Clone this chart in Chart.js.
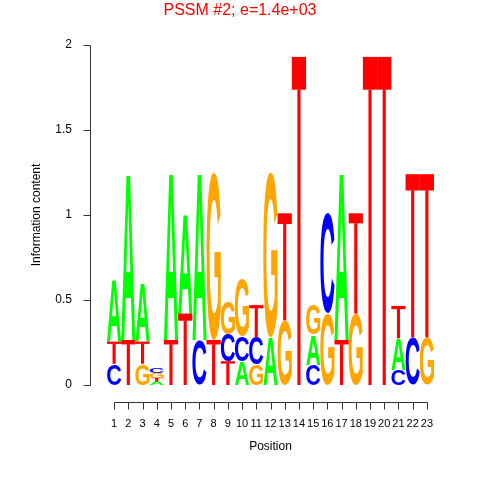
<!DOCTYPE html>
<html>
<head>
<meta charset="utf-8">
<script src="https://cdn.jsdelivr.net/npm/chart.js@4/dist/chart.umd.min.js"></script>
<style>
    html, body { margin: 0; padding: 0; background: #fff; }
    #wrap { width: 480px; height: 480px; }
</style>
</head>
<body>
<div id="wrap"><canvas id="logoChart" width="480" height="480"></canvas></div>
<script>
// Positions along the motif
const positions = ['1', '2', '3', '4', '5', '6', '7', '8', '9', '10', '11', '12',
    '13', '14', '15', '16', '17', '18', '19', '20', '21', '22', '23'];

// Letter heights (bits) per position
const heightA = [0.37, 0.98, 0.34, 0.02, 0.985, 0.59, 0.985, 0, 0, 0.14, 0, 0.28,
    0, 0, 0.175, 0, 0.985, 0, 0, 0, 0.185, 0, 0];
const heightC = [0.125, 0, 0, 0.03, 0, 0, 0.265, 0, 0.16, 0.15, 0.16, 0,
    0, 0, 0.12, 0.59, 0, 0, 0, 0, 0.09, 0.28, 0];
const heightG = [0, 0, 0.125, 0.028, 0, 0, 0, 0.985, 0.195, 0.33, 0.12, 0.97,
    0.38, 0, 0.18, 0.42, 0, 0.42, 0, 0, 0, 0, 0.28];
const heightT = [0.13, 0.265, 0.13, 0.022, 0.265, 0.42, 0, 0.265, 0.14, 0, 0.19, 0,
    0.63, 1.93, 0, 0, 0.265, 0.59, 1.93, 1.93, 0.19, 0.96, 0.96];

const yTicks = [0, 0.5, 1, 1.5, 2];

const bases = ['A', 'C', 'G', 'T'];
const heights = { A: heightA, C: heightC, G: heightG, T: heightT };
const baseColors = { A: '#00ff00', C: '#0000ff', G: '#ffa500', T: '#ff0000' };
const fontFamily = '"Liberation Sans", Arial, Helvetica, sans-serif';

// Stack letters per column, smallest at the bottom
function buildRanges() {
    const ranges = { A: [], C: [], G: [], T: [] };
    positions.forEach((p, i) => {
        bases.forEach(b => { ranges[b][i] = null; });
        const col = bases
            .map(b => ({ b: b, h: heights[b][i] }))
            .filter(d => d.h > 0)
            .sort((a, b) => a.h - b.h);
        let y = 0;
        col.forEach(d => {
            ranges[d.b][i] = [y, y + d.h];
            y += d.h;
        });
    });
    return ranges;
}

function drawLetter(ctx, ch, x, y, w, h, color) {
    if (h < 0.5) return;
    ctx.save();
    ctx.fillStyle = color;
    if (ch === 'T') {
        // thin top bar, narrow stem
        const bar = h * 0.1;
        ctx.fillRect(x, y, w, bar);
        ctx.fillRect(x + w * 0.39, y + bar - 0.2, w * 0.22, h - bar + 0.2);
        ctx.restore();
        return;
    }
    ctx.font = 'bold 100px ' + fontFamily;
    ctx.textAlign = 'left';
    ctx.textBaseline = 'alphabetic';
    const m = ctx.measureText(ch);
    const bw = m.actualBoundingBoxLeft + m.actualBoundingBoxRight;
    const bh = m.actualBoundingBoxAscent + m.actualBoundingBoxDescent;
    ctx.translate(x, y);
    ctx.scale(w / bw, h / bh);
    ctx.fillText(ch, m.actualBoundingBoxLeft, m.actualBoundingBoxAscent);
    ctx.restore();
}

// Draws each letter stretched into its bar box
const letterPlugin = {
    id: 'letters',
    afterDatasetsDraw(chart) {
        const ctx = chart.ctx;
        chart.data.datasets.forEach((ds, di) => {
            const meta = chart.getDatasetMeta(di);
            meta.data.forEach((bar, i) => {
                if (!ds.data[i]) return;
                const p = bar.getProps(['x', 'y', 'base', 'width'], true);
                drawLetter(ctx, ds.label, p.x - p.width / 2, Math.min(p.y, p.base),
                    p.width, Math.abs(p.base - p.y), baseColors[ds.label]);
            });
        });
    }
};

// R-style detached axes
const rAxesPlugin = {
    id: 'rAxes',
    afterDraw(chart) {
        const ctx = chart.ctx;
        const area = chart.chartArea;
        const xs = chart.scales.x;
        const ys = chart.scales.y;
        ctx.save();
        ctx.strokeStyle = '#333';
        ctx.lineWidth = 1;
        ctx.beginPath();
        const ax = Math.round(area.left - 17) + 0.5;
        const yTop = Math.round(ys.getPixelForValue(2)) + 0.5;
        const yBot = Math.round(ys.getPixelForValue(0)) + 0.5;
        ctx.moveTo(ax, yBot);
        ctx.lineTo(ax, yTop);
        yTicks.forEach(v => {
            const py = Math.round(ys.getPixelForValue(v)) + 0.5;
            ctx.moveTo(ax, py);
            ctx.lineTo(ax - 7, py);
        });
        const ay = Math.round(area.bottom + 17) + 0.5;
        const x0 = Math.round(xs.getPixelForValue(0)) + 0.5;
        const x1 = Math.round(xs.getPixelForValue(positions.length - 1)) + 0.5;
        ctx.moveTo(x0, ay);
        ctx.lineTo(x1, ay);
        positions.forEach((p, i) => {
            const px = Math.round(xs.getPixelForValue(i)) + 0.5;
            ctx.moveTo(px, ay);
            ctx.lineTo(px, ay + 7);
        });
        ctx.stroke();
        ctx.restore();
    }
};

const ranges = buildRanges();

Chart.defaults.font.family = fontFamily;
Chart.defaults.color = '#000';

new Chart(document.getElementById('logoChart'), {
    type: 'bar',
    data: {
        labels: positions,
        datasets: bases.map(b => ({
            label: b,
            data: ranges[b],
            backgroundColor: 'rgba(0,0,0,0)',
            borderWidth: 0,
            grouped: false,
            barPercentage: 1,
            categoryPercentage: 1
        }))
    },
    options: {
        responsive: false,
        animation: false,
        layout: { padding: 0 },
        plugins: {
            legend: { display: false },
            tooltip: { enabled: false },
            title: {
                display: true,
                text: 'PSSM #2; e=1.4e+03',
                color: '#ff0000',
                font: { size: 16, weight: 'normal' },
                padding: { top: 0.5, bottom: 25.3 }
            }
        },
        scales: {
            x: {
                grid: { display: false, drawTicks: false },
                border: { display: false },
                ticks: {
                    font: { size: 11 },
                    padding: 32,
                    autoSkip: false,
                    maxRotation: 0
                },
                title: {
                    display: true,
                    text: 'Position',
                    font: { size: 12 },
                    padding: { top: 0, bottom: 26 }
                },
                afterFit: scale => { scale.height = 95; }
            },
            y: {
                min: 0,
                max: 2,
                grid: { display: false, drawTicks: false },
                border: { display: false },
                afterBuildTicks: scale => { scale.ticks = yTicks.map(v => ({ value: v })); },
                ticks: {
                    font: { size: 12 },
                    padding: 35,
                    callback: v => String(v)
                },
                title: {
                    display: true,
                    text: 'Information content',
                    font: { size: 12 },
                    padding: { top: 29, bottom: 0 }
                },
                afterFit: scale => { scale.width = 107; }
            },
            // empty right margin so the title centres on the page
            yRight: {
                type: 'linear',
                position: 'right',
                min: 0,
                max: 2,
                grid: { display: false, drawTicks: false },
                border: { display: false },
                ticks: { display: false },
                afterFit: scale => { scale.width = 46; }
            }
        }
    },
    plugins: [letterPlugin, rAxesPlugin]
});
</script>
</body>
</html>
